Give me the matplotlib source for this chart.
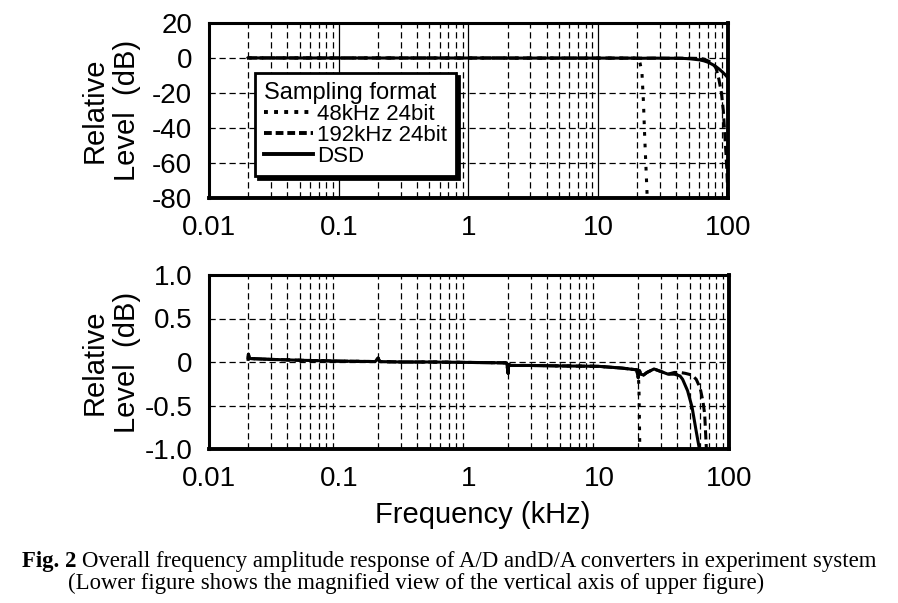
import matplotlib
matplotlib.use("Agg")
import matplotlib.pyplot as plt
import numpy as np

# ---------------- data ----------------
x_ticks = [0.01, 0.1, 1, 10, 100]
x_tick_labels = ["0.01", "0.1", "1", "10", "100"]
top_y_ticks = [20, 0, -20, -40, -60, -80]
top_y_labels = ["20", "0", "-20", "-40", "-60", "-80"]
bot_y_ticks = [1.0, 0.5, 0.0, -0.5, -1.0]
bot_y_labels = ["1.0", "0.5", "0", "-0.5", "-1.0"]

# common low-frequency part (kHz, dB)
common_f = [0.020, 0.0201, 0.0205, 0.03, 0.05, 0.1, 0.19, 0.2, 0.205, 0.3, 0.5, 1.0,
            1.95, 2.0, 2.02, 2.1, 3, 5, 10, 15, 19.5]
common_db = [0.03, 0.09, 0.04, 0.03, 0.02, 0.01, 0.005, 0.045, 0.005, 0.0, 0.0, -0.005,
             -0.01, -0.13, -0.03, -0.04, -0.04, -0.045, -0.05, -0.07, -0.09]

dsd_f = common_f + [20.0, 20.5, 21, 22, 23.4, 26.5, 30, 34, 38, 42, 44, 48, 52, 56, 60,
                    65, 70, 75, 80, 85, 90, 95, 100]
dsd_db = common_db + [-0.18, -0.1, -0.14, -0.15, -0.12, -0.08, -0.11, -0.14, -0.14, -0.16,
                      -0.2, -0.33, -0.52, -0.8, -1.05, -1.6, -2.4, -3.5, -4.7, -6.2, -7.8,
                      -9.5, -11.4]

k192_f = common_f + [20.0, 20.5, 21, 22, 23.4, 26.5, 30, 34, 38, 42, 46, 52, 56, 60, 63,
                     65, 67, 70, 74, 78, 81, 85, 89, 92, 94, 96, 98, 99.5, 100]
k192_db = common_db + [-0.18, -0.1, -0.14, -0.15, -0.12, -0.08, -0.11, -0.14, -0.12, -0.12,
                       -0.13, -0.15, -0.2, -0.3, -0.45, -0.6, -1.0, -1.6, -2.5, -4.0, -6.0,
                       -12, -20, -30, -41, -52, -64, -76, -85]

k48_f = common_f + [20.0, 20.3, 20.6, 21.0, 21.7, 22.3, 22.8, 23.4, 24.0]
k48_db = common_db + [-0.1, -0.3, -1.0, -3.0, -8.0, -25.0, -45.0, -65.0, -85.0]

legend_title = "Sampling format"
labels = ["48kHz 24bit", "192kHz 24bit", "DSD"]
ylabel_text = "Relative\nLevel  (dB)"
xlabel_text = "Frequency (kHz)"
caption_bold = "Fig. 2"
caption_line1 = "Overall frequency amplitude response of A/D andD/A converters in experiment system"
caption_line2 = "(Lower figure shows the magnified view of the vertical axis of upper figure)"

# ---------------- figure ----------------
plt.rcParams['font.family'] = ['Liberation Sans', 'DejaVu Sans']
fig = plt.figure(figsize=(8.98, 6.03), dpi=100)

W, H = 898.0, 603.0
def rect(l, t, r, b):
    return [l / W, 1 - b / H, (r - l) / W, (b - t) / H]

ax1 = fig.add_axes(rect(209, 23, 728, 198))
ax2 = fig.add_axes(rect(209, 275, 729, 449))

dot_style = (0, (1.2, 2.6))
dash_style = (0, (3.0, 1.5))
grid_dash = (0, (5, 3))

for ax in (ax1, ax2):
    ax.set_xscale('log')
    ax.set_xlim(0.01, 100)
    for s in ax.spines.values():
        s.set_linewidth(2.2)
        s.set_color('black')
    ax.spines['right'].set_linewidth(2.8)
    ax.spines['bottom'].set_linewidth(2.8)
    ax.tick_params(axis='both', which='both', length=0, labelsize=20, pad=12)
    ax.set_xticks(x_ticks)
    ax.set_xticklabels(x_tick_labels)
    ax.minorticks_off()
    minors = [m * d for d in [0.01, 0.1, 1, 10] for m in range(2, 10)]
    for xv in minors:
        ax.axvline(xv, color='black', lw=0.9, linestyle=grid_dash, zorder=1)

# top axes
ax1.set_ylim(-80, 20)
ax1.set_yticks(top_y_ticks)
ax1.set_yticklabels(top_y_labels)
for yv in [0, -20, -40, -60]:
    ax1.axhline(yv, color='black', lw=0.9, linestyle=grid_dash, zorder=1)
for xv in [0.1, 1, 10]:
    ax1.axvline(xv, color='black', lw=0.9, zorder=1)

# bottom axes
ax2.set_ylim(-1.0, 1.0)
ax2.set_yticks(bot_y_ticks)
ax2.set_yticklabels(bot_y_labels)
for yv in [0.5, 0.0, -0.5]:
    ax2.axhline(yv, color='black', lw=0.9, linestyle=grid_dash, zorder=1)

for ax in (ax1, ax2):
    ax.plot(k48_f, k48_db, color='black', lw=2.2, linestyle=dot_style, zorder=3)
    ax.plot(k192_f, k192_db, color='black', lw=2.2, linestyle=dash_style, zorder=3)
    ax.plot(dsd_f, dsd_db, color='black', lw=2.2, linestyle='-', zorder=4)

h48 = plt.Line2D([], [], color='black', lw=2.8, linestyle=(0, (1.0, 1.6)))
h192 = plt.Line2D([], [], color='black', lw=2.8, linestyle=(0, (2.0, 1.0)))
hdsd = plt.Line2D([], [], color='black', lw=2.8)
leg = ax1.legend([h48, h192, hdsd], labels, title=legend_title,
                 loc='upper left', bbox_to_anchor=(0.089, 0.714), borderaxespad=0,
                 fontsize=16, title_fontsize=17, alignment='left',
                 handlelength=2.2, handletextpad=0.2, labelspacing=0.0,
                 borderpad=0.4, fancybox=False, framealpha=1,
                 shadow={'color': 'black', 'alpha': 1})
leg.get_frame().set_edgecolor('black')
leg.get_frame().set_linewidth(2.0)
leg.set_zorder(10)

# y labels
for yc in (110, 362):
    fig.text(111 / W, 1 - yc / H, ylabel_text, rotation=90, ha='center',
             va='center', multialignment='center', fontsize=21, linespacing=1.2)

# x label
fig.text(483 / W, 1 - 515 / H, xlabel_text, ha='center', va='center', fontsize=21)

# caption
cap_fs = 16.4
tb = fig.text(22 / W, 1 - 561 / H, caption_bold, ha='left', va='center', fontsize=cap_fs,
              family='Liberation Serif', weight='bold')
fig.canvas.draw()
bb = tb.get_window_extent(renderer=fig.canvas.get_renderer())
fig.text((bb.x1 + 5) / W, 1 - 561 / H, caption_line1,
         ha='left', va='center', fontsize=cap_fs, family='Liberation Serif')
fig.text(68 / W, 1 - 583 / H, caption_line2,
         ha='left', va='center', fontsize=cap_fs, family='Liberation Serif')

fig.savefig("out.png", dpi=100)
